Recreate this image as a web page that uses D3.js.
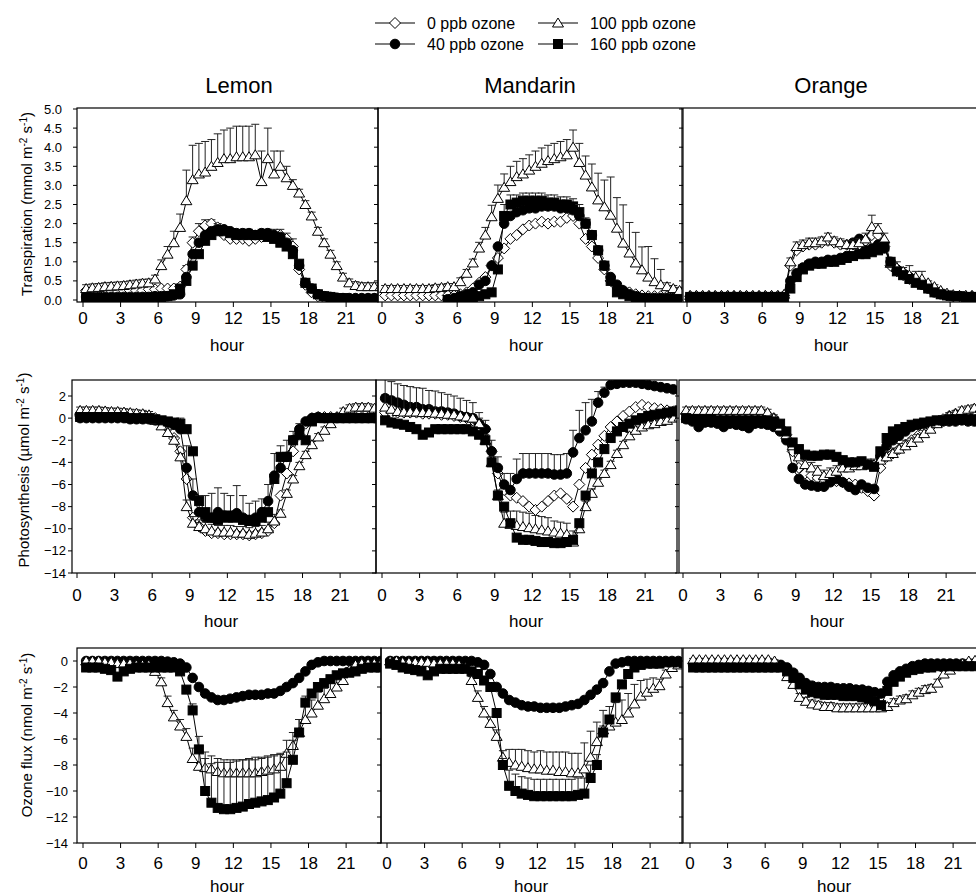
<!DOCTYPE html>
<html>
<head>
<meta charset="utf-8">
<script src="https://cdn.jsdelivr.net/npm/d3@7"></script>
<style>
  body { margin:0; background:#fff; }
  svg { font-family: "Liberation Sans", Arial, sans-serif; }
</style>
</head>
<body>
<script>
// sampling times (hour of day)
var hours = [0.25,0.75,1.25,1.75,2.25,2.75,3.25,3.75,4.25,4.75,5.25,5.75,
  6.25,6.75,7.25,7.75,8.25,8.75,9.25,9.75,10.25,10.75,11.25,11.75,
  12.25,12.75,13.25,13.75,14.25,14.75,15.25,15.75,16.25,16.75,17.25,17.75,
  18.25,18.75,19.25,19.75,20.25,20.75,21.25,21.75,22.25,22.75,23.25,23.75];

var species = ["Lemon","Mandarin","Orange"];
var seriesNames = ["0 ppb ozone","40 ppb ozone","100 ppb ozone","160 ppb ozone"];
var hourTicks = [0,3,6,9,12,15,18,21];
var transTicks = [0,0.5,1,1.5,2,2.5,3,3.5,4,4.5,5];
var photoTicks = [-14,-12,-10,-8,-6,-4,-2,0,2];
var fluxTicks = [-14,-12,-10,-8,-6,-4,-2,0];

// ---- Transpiration ----
var lemonT0 = [0.25,0.25,0.25,0.25,0.25,0.25, 0.25,0.25,0.25,0.25,0.28,0.28,
  0.3,0.3,0.3,0.35,0.8,1.5, 1.8,1.95,2.0,1.9,1.7,1.6, 1.6,1.6,1.55,1.6,1.65,1.7,
  1.7,1.7,1.6,1.4,0.8,0.4, 0.2,0.1,0.05,0.03,0.02,0.02, 0.02,0.02,0.02,0.03,0.03,0.03];
var lemonT0se = [0.05,0.05,0.05,0.05,0.05,0.05, 0.05,0.05,0.05,0.05,0.05,0.05,
  0.05,0.05,0.05,0.05,0.1,0.15, 0.2,0.15,0.1,0.1,0.2,0.2, 0.2,0.25,0.3,0.2,0.2,0.15,
  0.15,0.15,0.15,0.2,0.1,0.05, 0.05,0.03,0.02,0.02,0.02,0.02, 0.02,0.02,0.02,0.02,0.02,0.02];
var lemonT40 = [0.08,0.08,0.08,0.08,0.08,0.08, 0.08,0.08,0.08,0.08,0.08,0.1,
  0.1,0.1,0.12,0.15,0.6,1.2, 1.5,1.7,1.8,1.85,1.85,1.8, 1.75,1.75,1.75,1.7,1.75,1.75,
  1.7,1.65,1.5,1.3,0.9,0.45, 0.3,0.15,0.1,0.08,0.06,0.05, 0.05,0.05,0.05,0.05,0.05,0.05];
var lemonT100 = [0.3,0.32,0.33,0.35,0.36,0.37, 0.38,0.4,0.42,0.44,0.45,0.55,
  0.9,1.2,1.5,1.9,2.6,3.15, 3.3,3.35,3.5,3.6,3.7,3.7, 3.75,3.75,3.75,3.8,3.1,3.7,
  3.3,3.5,3.2,3.0,2.8,2.5, 2.2,1.8,1.5,1.2,0.9,0.6, 0.45,0.38,0.35,0.35,0.35,0.35];
var lemonT100se = [0.1,0.1,0.1,0.1,0.1,0.1, 0.1,0.1,0.1,0.1,0.1,0.1,
  0.15,0.2,0.3,0.35,0.8,0.9, 0.8,0.8,0.7,0.75,0.75,0.8, 0.8,0.8,0.8,0.8,0.8,0.8,
  0.6,0.4,0.3,0.15,0.1,0.1, 0.1,0.1,0.1,0.1,0.1,0.1, 0.1,0.1,0.1,0.1,0.1,0.1];
var lemonT160 = [0.05,0.05,0.05,0.05,0.05,0.05, 0.05,0.05,0.05,0.06,0.06,0.07,
  0.08,0.1,0.15,0.3,0.5,0.9, 1.2,1.55,1.7,1.8,1.8,1.75, 1.7,1.7,1.7,1.7,1.7,1.65,
  1.6,1.5,1.4,1.2,0.95,0.45, 0.3,0.15,0.1,0.08,0.05,0.05, 0.02,0,0,0.02,0.03,0.03];

var mandT0 = [0.12,0.12,0.12,0.12,0.12,0.12, 0.12,0.12,0.12,0.12,0.12,0.12,
  0.15,0.2,0.3,0.45,0.6,0.9, 1.1,1.35,1.6,1.7,1.85,1.95, 2.0,2.05,2.0,2.05,2.05,2.15,
  2.2,2.0,1.6,1.4,1.1,0.8, 0.5,0.35,0.25,0.2,0.15,0.12, 0.1,0.1,0.1,0.1,0.1,0.1];
var mandT40 = [null,null,null,null,null,null, null,null,null,null,0.02,0.05,
  0.1,0.15,0.2,0.4,0.5,0.9, 1.4,2.0,2.2,2.3,2.35,2.4, 2.4,2.45,2.45,2.45,2.4,2.4,
  2.35,2.2,2.0,1.7,1.3,0.9, 0.6,0.4,0.25,0.15,0.1,0.05, 0.05,0.05,0.05,0.05,0.05,0.05];
var mandT100 = [0.3,0.3,0.3,0.3,0.3,0.3, 0.3,0.3,0.32,0.33,0.35,0.35,
  0.48,0.7,0.97,1.36,1.7,2.18, 2.66,2.95,3.1,3.23,3.3,3.4, 3.5,3.58,3.65,3.7,3.75,3.8,
  4.0,3.6,3.27,2.96,2.62,2.44, 2.22,1.88,1.49,1.23,0.97,0.79, 0.6,0.48,0.4,0.35,0.3,0.25];
var mandT100se = [0.08,0.08,0.08,0.08,0.08,0.08, 0.08,0.08,0.08,0.08,0.08,0.08,
  0.1,0.1,0.1,0.15,0.2,0.3, 0.35,0.35,0.4,0.4,0.4,0.4, 0.4,0.4,0.4,0.4,0.4,0.4,
  0.45,0.5,0.5,0.6,0.7,0.7, 1.0,0.8,1.0,0.8,0.8,0.6, 0.8,0.6,0.4,0.1,0.08,0.08];
var mandT160 = [null,null,null,null,null,null, null,null,null,null,0,0,
  0.02,0.03,0.05,0.1,0.15,0.2, 0.8,2.2,2.5,2.55,2.6,2.6, 2.6,2.6,2.55,2.55,2.5,2.5,
  2.45,2.3,2.0,1.7,1.3,0.9, 0.5,0.2,0.15,0.1,0.08,0.05, 0.03,0.02,0,0,null,null];
var mandT160se = [0,0,0,0,0,0, 0,0,0,0,0,0,
  0,0,0,0,0,0, 0,0.3,0.25,0.2,0.2,0.2, 0.2,0.2,0.2,0.2,0.2,0.2,
  0.2,0.2,0.15,0.1,0.1,0.05, 0,0,0,0,0,0, 0,0,0,0,0,0];

var orT0 = [0.1,0.1,0.1,0.1,0.1,0.1, 0.1,0.1,0.1,0.1,0.1,0.1,
  0.1,0.1,0.1,0.12,0.9,1.3, 1.4,1.45,1.45,1.5,1.55,1.5, 1.45,1.45,1.45,1.45,1.55,1.7,
  1.7,1.4,0.9,0.75,0.65,0.55, 0.5,0.45,0.35,0.25,0.18,0.12, 0.1,0.1,0.1,0.1,0.1,0.1];
var orT40 = [0.08,0.08,0.08,0.08,0.08,0.08, 0.08,0.08,0.08,0.08,0.08,0.08,
  0.08,0.08,0.08,0.1,0.5,0.7, 0.85,0.95,1.0,1.0,1.05,1.05, 1.1,1.15,1.5,1.6,1.3,1.35,
  1.45,1.35,1.0,0.8,0.7,0.6, 0.5,0.4,0.3,0.2,0.15,0.12, 0.1,0.1,0.08,0.08,0.08,0.08];
var orT100 = [0.12,0.12,0.12,0.12,0.12,0.12, 0.12,0.12,0.12,0.12,0.12,0.12,
  0.12,0.12,0.12,0.15,1.0,1.4, 1.45,1.5,1.5,1.55,1.65,1.55, 1.5,1.45,1.45,1.5,1.6,1.92,
  1.85,1.6,0.96,0.85,0.75,0.65, 0.6,0.55,0.45,0.35,0.25,0.18, 0.14,0.12,0.12,0.12,0.12,0.12];
var orT100se = [0.03,0.03,0.03,0.03,0.03,0.03, 0.03,0.03,0.03,0.03,0.03,0.03,
  0.03,0.03,0.03,0.03,0.1,0.12, 0.12,0.12,0.12,0.1,0.1,0.1, 0.1,0.1,0.1,0.1,0.15,0.3,
  0.15,0.15,0.1,0.15,0.1,0.25, 0.15,0.2,0.05,0.05,0.03,0.03, 0.03,0.03,0.03,0.03,0.03,0.03];
var orT160 = [0.08,0.08,0.08,0.08,0.08,0.08, 0.08,0.08,0.08,0.08,0.08,0.08,
  0.08,0.08,0.08,0.08,0.3,0.6, 0.8,0.9,0.95,0.95,1.0,1.0, 1.05,1.1,1.15,1.2,1.2,1.25,
  1.3,1.4,1.0,0.75,0.65,0.55, 0.45,0.4,0.3,0.2,0.15,0.12, 0.1,0.1,0.08,0.08,0.08,0.08];

// ---- Photosynthesis ----
var lemonP0 = [0.2,0.2,0.2,0.2,0.2,0.2, 0.2,0.2,0.2,0.15,0.1,0.1,
  0,-0.4,-0.9,-1.8,-3.0,-5.5, -9.0,-9.8,-10.2,-10.4,-10.4,-10.5, -10.5,-10.5,-10.5,-10.6,-10.5,-10.4,
  -10.2,-9.5,-7.0,-5.0,-3.0,-1.5, -0.5,0,0.1,0.1,0.1,0.1, 0.1,0.1,0.1,0.1,0.1,0.1];
var lemonP40 = [0,0,0,0,0,0, 0,0,-0.1,-0.1,-0.1,-0.1,
  -0.2,-0.3,-0.4,-0.6,-1.0,-4.5, -7.0,-8.5,-9.0,-9.0,-8.5,-8.8, -9.0,-8.6,-9.0,-9.2,-9.0,-8.5,
  -7.5,-5.2,-4.5,-3.5,-2.0,-1.0, -0.3,0,0.1,0,0,0, 0,0,0,0,0,0];
var lemonP40se = [0.3,0.3,0.3,0.3,0.3,0.3, 0.3,0.3,0.3,0.3,0.3,0.3,
  0.3,0.3,0.3,0.5,1.0,2.0, 1.5,1.5,2.0,2.2,2.2,2.0, 2.0,2.5,2.0,1.5,1.5,1.2,
  1.5,2.0,2.0,1.5,0.8,0.5, 0.2,0.2,0.2,0.2,0.2,0.2, 0.2,0.2,0.2,0.2,0.2,0.2];
var lemonP100 = [0.7,0.7,0.7,0.7,0.65,0.6, 0.6,0.55,0.5,0.45,0.4,0.3,
  -0.2,-0.7,-1.3,-2.0,-3.5,-8.0, -9.5,-9.8,-10.0,-10.2,-10.3,-10.3, -10.3,-10.4,-10.4,-10.5,-10.4,-10.3,
  -10.0,-9.3,-8.6,-6.8,-5.5,-4.3, -3.3,-2.4,-1.7,-1.1,-0.5,0.1, 0.6,0.9,1.0,1.0,1.0,0.9];
var lemonP100se = [0.3,0.3,0.3,0.3,0.3,0.3, 0.3,0.3,0.3,0.3,0.3,0.3,
  0.3,0.3,0.3,0.3,0.3,0.6, 0.6,0.6,0.6,0.6,0.6,0.6, 0.6,0.6,0.6,0.6,0.6,0.6,
  0.6,0.6,0.3,0.3,0.3,0.3, 0.3,0.3,0.3,0.3,0.3,0.3, 0.3,0.3,0.3,0.3,0.3,0.3];
var lemonP160 = [0.1,0.1,0.1,0.1,0.1,0.1, 0.1,0.1,0,0,0,0,
  -0.1,-0.2,-0.3,-0.4,-0.5,-1.0, -3.0,-7.5,-8.5,-9.0,-9.2,-9.0, -8.8,-9.0,-9.2,-9.3,-9.3,-9.0,
  -8.5,-5.5,-3.5,-3.5,-2.0,-1.5, -2.0,-0.3,0,0,0,0, 0,0,0,0,0,0];

var mandP0 = [0.5,0.5,0.5,0.5,0.5,0.5, 0.4,0.4,0.4,0.3,0.3,0.2,
  0.1,0,-0.2,-0.5,-1.0,-3.0, -5.0,-6.5,-7.0,-7.2,-7.5,-8.0, -8.3,-8.0,-7.5,-7.0,-6.8,-7.3,
  -8.0,-6.0,-4.5,-3.3,-2.4,-1.6, -0.8,-0.3,0.2,0.6,1.0,1.2, 1.0,0.9,0.8,0.7,0.6,0.5];
var mandP40 = [1.8,1.6,1.4,1.2,1.0,1.0, 0.8,0.8,0.6,0.6,0.5,0.4,
  0.2,0.1,0,-0.5,-1.0,-3.0, -4.5,-6.0,-6.5,-5.5,-5.0,-5.0, -5.0,-5.0,-5.0,-5.1,-5.1,-5.0,
  -3.1,-1.8,-1.1,-0.3,1.4,2.3, 3.0,3.1,3.2,3.2,3.2,3.1, 3.0,2.9,2.8,2.7,2.6,2.5];
var mandP40se = [0.3,0.3,0.3,0.3,0.3,0.3, 0.3,0.3,0.3,0.3,0.3,0.3,
  0.3,0.3,0.3,0.5,0.8,1.0, 1.0,1.0,1.5,1.8,1.8,1.8, 1.8,1.8,1.8,1.8,1.8,1.8,
  2.0,2.5,2.5,2.0,1.0,0.5, 0.2,0.2,0.2,0.2,0.2,0.2, 0.2,0.2,0.2,0.2,0.2,0.2];
var mandP100 = [1.0,0.8,0.6,0.55,0.55,0.55, 0.5,0.5,0.45,0.4,0.35,0.3,
  0.2,0.1,0,-0.5,-2.0,-4.0, -7.0,-9.5,-9.6,-9.7,-9.8,-9.9, -10.0,-10.1,-10.2,-10.3,-10.4,-10.5,
  -11.2,-10.0,-8.0,-6.8,-5.8,-5.0, -4.2,-3.2,-2.4,-1.6,-1.1,-0.8, -0.6,-0.5,-0.3,-0.2,0,0.1];
var mandP100se = [2.5,2.5,2.5,2.4,2.3,2.2, 2.2,2.0,2.0,1.9,1.8,1.7,
  1.6,1.5,1.4,1.0,0.5,0.5, 0.5,1.0,1.2,1.3,1.3,1.3, 1.2,1.2,1.2,1.0,1.0,1.0,
  1.0,0.5,0.5,0.4,0.3,0.3, 0.3,0.3,0.3,0.3,0.3,0.3, 0.3,0.3,0.3,0.3,0.3,0.3];
var mandP160 = [-0.2,-0.4,-0.5,-0.6,-0.8,-1.0, -1.5,-1.3,-1.0,-1.0,-1.0,-1.0,
  -1.0,-1.0,-1.2,-1.5,-2.0,-4.0, -7.0,-8.0,-9.5,-10.8,-11.0,-11.0, -11.1,-11.2,-11.2,-11.3,-11.3,-11.2,
  -11.0,-9.5,-7.0,-5.0,-4.0,-2.8, -1.8,-1.2,-0.8,-0.5,-0.2,0, 0.2,0.3,0.4,0.5,0.6,0.7];

var orP0 = [0.4,0.4,0.4,0.4,0.4,0.4, 0.4,0.4,0.4,0.4,0.4,0.4,
  0.4,0.3,0,-0.8,-1.5,-3.0, -4.5,-5.0,-5.2,-5.4,-5.5,-5.6, -5.7,-5.8,-5.9,-6.0,-6.3,-6.6,
  -7.0,-4.5,-3.5,-3.2,-2.8,-2.4, -2.0,-1.6,-1.2,-0.8,-0.4,-0.1, 0.2,0.4,0.5,0.6,0.6,0.6];
var orP40 = [-0.1,-0.3,-0.8,-0.4,-0.4,-0.5, -0.8,-0.5,-0.6,-0.7,-0.9,-0.5,
  -0.5,-0.6,-0.8,-1.2,-2.0,-4.5, -5.5,-6.0,-6.1,-6.2,-6.2,-5.8, -5.5,-5.8,-6.2,-6.5,-6.0,-6.3,
  -6.4,-3.5,-2.5,-2.0,-1.6,-1.2, -0.8,-0.6,-0.5,-0.4,-0.4,-0.3, -0.3,-0.3,-0.2,-0.3,-0.3,-0.2];
var orP100 = [0.7,0.7,0.7,0.7,0.7,0.7, 0.7,0.7,0.7,0.7,0.7,0.7,
  0.7,0.5,0,-0.8,-1.5,-2.5, -3.5,-4.2,-4.5,-4.8,-5.2,-5.0, -4.8,-4.5,-4.5,-4.3,-4.3,-4.2,
  -4.2,-3.8,-3.5,-3.2,-2.8,-2.5, -2.2,-1.8,-1.4,-1.0,-0.5,-0.2, 0.2,0.4,0.7,0.8,0.9,0.9];
var orP100se = [0.3,0.3,0.3,0.3,0.3,0.3, 0.3,0.3,0.3,0.3,0.3,0.3,
  0.3,0.3,0.3,0.3,0.4,0.5, 0.5,0.5,0.5,0.5,0.5,0.5, 0.5,0.5,0.5,0.5,0.5,0.5,
  0.5,0.5,0.5,0.5,0.5,0.5, 0.4,0.3,0.3,0.3,0.3,0.3, 0.3,0.3,0.3,0.3,0.3,0.3];
var orP160 = [0,-0.1,-0.1,-0.1,-0.1,-0.2, -0.2,-0.2,-0.2,-0.2,-0.2,-0.2,
  -0.2,-0.2,-0.3,-0.5,-1.2,-2.2, -2.8,-3.3,-3.4,-3.4,-3.3,-3.3, -3.5,-3.8,-4.0,-4.0,-3.9,-4.2,
  -4.4,-3.0,-1.8,-1.2,-1.0,-0.8, -0.6,-0.5,-0.4,-0.3,-0.2,-0.2, -0.1,-0.1,-0.1,-0.1,-0.1,-0.1];

// ---- Ozone flux (0 ppb not plotted) ----
var lemonO40 = [0,0,0,0,0,0, 0,0,0,0,0,0,
  0,-0.05,-0.1,-0.2,-0.5,-1.3, -2.0,-2.5,-2.8,-3.0,-3.0,-2.9, -2.8,-2.7,-2.6,-2.6,-2.6,-2.5,
  -2.5,-2.3,-2.0,-1.7,-1.3,-0.8, -0.3,-0.1,0,0,0,0, 0,0,0,0,0,0];
var lemonO100 = [0,0,0,-0.1,-0.1,-0.2, -0.2,-0.2,-0.3,-0.3,-0.3,-0.8,
  -1.6,-3.2,-4.3,-5.0,-5.8,-7.5, -8.1,-8.2,-8.3,-8.5,-8.6,-8.6, -8.6,-8.6,-8.6,-8.6,-8.5,-8.4,
  -8.3,-8.1,-7.1,-6.5,-5.5,-4.5, -4.0,-3.4,-2.9,-2.5,-2.0,-1.5, -0.7,-0.3,-0.2,-0.2,-0.2,-0.2];
var lemonO100se = [0.1,0.1,0.1,0.1,0.1,0.1, 0.1,0.1,0.1,0.1,0.1,0.1,
  0.3,0.5,0.5,0.5,0.6,0.8, 1.2,1.2,1.0,1.0,1.0,1.0, 1.0,1.0,1.0,1.0,1.0,1.0,
  1.0,1.0,1.0,1.0,1.0,1.0, 1.0,1.0,0.8,0.8,0.8,0.6, 0.2,0.1,0.1,0.1,0.1,0.1];
var lemonO160 = [-0.5,-0.5,-0.5,-0.6,-0.7,-1.2, -0.8,-0.6,-0.5,-0.5,-0.5,-0.5,
  -0.5,-0.5,-0.5,-0.8,-2.2,-3.8, -6.8,-10.0,-10.9,-11.3,-11.4,-11.4, -11.3,-11.2,-11.0,-10.9,-10.8,-10.7,
  -10.5,-10.2,-9.4,-7.6,-5.5,-3.2, -2.5,-2.0,-1.7,-1.4,-1.1,-0.95, -0.9,-0.8,-0.6,-0.5,-0.5,-0.5];
var lemonO160se = [0,0,0,0,0,0, 0,0,0,0,0,0,
  0,0,0,0,0,0.5, 1.0,2.5,3.0,3.5,3.6,3.6, 3.6,3.6,3.5,3.5,3.4,3.4,
  3.3,3.0,2.4,1.5,1.0,0.5, 0,0,0,0,0,0, 0,0,0,0,0,0];

var mandO40 = [0,0,0,0,0,0, 0,0,0,0,0,0,
  0,0,-0.1,-0.3,-1.0,-2.0, -2.5,-3.0,-3.2,-3.4,-3.5,-3.5, -3.6,-3.6,-3.6,-3.6,-3.5,-3.4,
  -3.3,-3.0,-2.6,-2.2,-1.7,-0.8, -0.2,-0.1,0,0,0,0, 0,0,0,0,0,0];
var mandO100 = [0,0,-0.1,-0.1,-0.1,-0.1, -0.1,-0.2,-0.2,-0.2,-0.2,-0.3,
  -0.5,-1.5,-2.8,-4.0,-4.8,-5.8, -7.4,-7.8,-8.0,-8.1,-8.2,-8.3, -8.3,-8.4,-8.4,-8.5,-8.5,-8.6,
  -8.6,-8.3,-7.4,-6.2,-5.3,-5.0, -4.7,-4.5,-4.0,-3.3,-2.7,-2.4, -2.1,-1.9,-1.0,-0.5,-0.3,-0.2];
var mandO100se = [0.1,0.1,0.1,0.1,0.1,0.1, 0.1,0.1,0.1,0.1,0.1,0.1,
  0.2,0.3,0.5,0.5,0.5,0.5, 0.5,1.0,1.2,1.3,1.3,1.3, 1.4,1.4,1.4,1.5,1.5,1.5,
  1.5,2.0,2.0,1.5,1.5,1.5, 1.5,1.5,1.5,1.5,1.2,1.0, 0.8,0.5,0.3,0.1,0.1,0.1];
var mandO160 = [-0.2,-0.3,-0.5,-0.6,-0.7,-0.8, -1.1,-0.8,-0.6,-0.6,-0.6,-0.6,
  -0.6,-0.8,-1.0,-1.5,-2.0,-4.0, -8.0,-9.6,-10.0,-10.2,-10.3,-10.4, -10.4,-10.4,-10.4,-10.4,-10.4,-10.4,
  -10.3,-10.2,-9.0,-8.0,-5.5,-4.5, -2.8,-1.8,-1.0,-0.5,-0.3,-0.2, -0.2,-0.2,-0.1,-0.1,-0.1,-0.1];
var mandO160se = [0,0,0,0,0,0, 0,0,0,0,0,0,
  0,0,0,0,0,0, 0.5,1.2,1.3,1.3,1.3,1.3, 1.3,1.3,1.3,1.3,1.3,1.3,
  1.3,1.2,1.0,0.8,0.5,0.3, 0,0,0,0,0,0, 0,0,0,0,0,0];

var orO40 = [-0.3,-0.3,-0.3,-0.3,-0.3,-0.3, -0.3,-0.3,-0.3,-0.3,-0.3,-0.3,
  -0.3,-0.3,-0.3,-0.5,-0.9,-1.3, -1.7,-1.9,-2.0,-2.0,-2.0,-2.1, -2.1,-2.1,-2.2,-2.2,-2.3,-2.4,
  -2.5,-1.6,-1.1,-0.8,-0.6,-0.4, -0.3,-0.2,-0.2,-0.2,-0.2,-0.2, -0.2,-0.2,-0.2,-0.2,-0.2,-0.2];
var orO100 = [0.1,0.1,0.1,0.1,0.1,0.1, 0.1,0.1,0.1,0.1,0.1,0.1,
  0.1,0,-0.5,-1.2,-1.8,-2.8, -3.1,-3.3,-3.4,-3.5,-3.5,-3.6, -3.6,-3.6,-3.6,-3.6,-3.6,-3.6,
  -3.6,-3.5,-3.2,-3.0,-2.9,-2.6, -2.4,-2.2,-2.1,-1.7,-1.0,-0.7, -0.4,-0.2,0,0.05,0.05,0.05];
var orO100se = [0.1,0.1,0.1,0.1,0.1,0.1, 0.1,0.1,0.1,0.1,0.1,0.1,
  0.1,0.1,0.2,0.3,0.3,0.3, 0.3,0.3,0.3,0.3,0.3,0.3, 0.3,0.3,0.3,0.3,0.3,0.3,
  0.3,0.3,0.3,0.3,0.3,0.3, 0.3,0.3,0.3,0.3,0.2,0.1, 0.1,0.1,0.1,0.1,0.1,0.1];
var orO160 = [-0.5,-0.5,-0.5,-0.5,-0.5,-0.5, -0.5,-0.5,-0.5,-0.5,-0.5,-0.5,
  -0.5,-0.5,-0.5,-0.8,-1.3,-1.8, -2.2,-2.4,-2.5,-2.6,-2.6,-2.6, -2.7,-2.7,-2.7,-2.8,-2.9,-3.1,
  -3.4,-2.3,-1.6,-1.2,-0.9,-0.7, -0.6,-0.5,-0.5,-0.4,-0.4,-0.4, -0.4,-0.4,-0.4,-0.4,-0.4,-0.4];

// layout of the three rows (pixel positions)
var rows = [
  {top:108, bottom:302, dom:[0,5], rng:[300,109], ticks:transTicks, fmt:d3.format(".1f"), labX:62,
   title:["Transpiration (mmol m","-2"," s","-1",")"], titleX:32, titleY:204,
   cols:[[77,378,83],[378,682,382],[683,990,687]], tickLabY:324, hourY:351},
  {top:380, bottom:573, dom:[-14,2], rng:[573,396], ticks:photoTicks, fmt:d3.format("d"), labX:66,
   title:["Photosynthesis (\u00b5mol m","-2"," s","-1",")"], titleX:29, titleY:470,
   cols:[[72,376,77],[376,677,382],[679,990,683]], tickLabY:601, hourY:627},
  {top:648, bottom:843, dom:[-14,0], rng:[843,661], ticks:fluxTicks, fmt:d3.format("d"), labX:68,
   title:["Ozone flux (nmol m","-2"," s","-1",")"], titleX:32, titleY:735,
   cols:[[77,381,83],[381,682,387],[683,990,690]], tickLabY:869, hourY:892}
];

var panels = [
  {row:0, col:0, vals:[lemonT0, lemonT40, lemonT100, lemonT160], se:[lemonT0se, null, lemonT100se, null]},
  {row:0, col:1, vals:[mandT0, mandT40, mandT100, mandT160], se:[null, null, mandT100se, mandT160se]},
  {row:0, col:2, vals:[orT0, orT40, orT100, orT160], se:[null, null, orT100se, null]},
  {row:1, col:0, vals:[lemonP0, lemonP40, lemonP100, lemonP160], se:[null, lemonP40se, lemonP100se, null]},
  {row:1, col:1, vals:[mandP0, mandP40, mandP100, mandP160], se:[null, mandP40se, mandP100se, null]},
  {row:1, col:2, vals:[orP0, orP40, orP100, orP160], se:[null, null, orP100se, null]},
  {row:2, col:0, vals:[null, lemonO40, lemonO100, lemonO160], se:[null, null, lemonO100se, lemonO160se]},
  {row:2, col:1, vals:[null, mandO40, mandO100, mandO160], se:[null, null, mandO100se, mandO160se]},
  {row:2, col:2, vals:[null, orO40, orO100, orO160], se:[null, null, orO100se, null]}
];

var shapes = ["diamond","circle","triangle","square"];
var fills = ["#fff","#000","#fff","#000"];

function addMarker(g, shape, fill, cx, cy) {
  var m;
  if (shape == "circle") {
    m = g.append("circle").attr("cx",cx).attr("cy",cy).attr("r",4.8);
  } else if (shape == "square") {
    m = g.append("rect").attr("x",cx-4.5).attr("y",cy-4.5).attr("width",9).attr("height",9);
  } else if (shape == "diamond") {
    m = g.append("path").attr("d","M"+cx+","+(cy-5.5)+"L"+(cx+5.5)+","+cy+"L"+cx+","+(cy+5.5)+"L"+(cx-5.5)+","+cy+"Z");
  } else {
    m = g.append("path").attr("d","M"+cx+","+(cy-5)+"L"+(cx+5.5)+","+(cy+4)+"L"+(cx-5.5)+","+(cy+4)+"Z");
  }
  m.attr("fill",fill).attr("stroke","#000").attr("stroke-width",1);
}

var svg = d3.select("body").append("svg").attr("width",976).attr("height",895);

// legend
var legPos = [[375,23],[375,44],[538,23],[538,44]];
seriesNames.forEach(function(name,i){
  var p = legPos[i];
  svg.append("line").attr("x1",p[0]).attr("x2",p[0]+40).attr("y1",p[1]).attr("y2",p[1])
    .attr("stroke","#000").attr("stroke-width",1.2);
  addMarker(svg, shapes[i], fills[i], p[0]+20, p[1]);
  svg.append("text").attr("x",p[0]+52).attr("y",p[1]+5.5).attr("font-size",16).text(name);
});

// column titles
var titleX = [239,530,831];
species.forEach(function(s,i){
  svg.append("text").attr("x",titleX[i]).attr("y",93).attr("text-anchor","middle")
    .attr("font-size",22).text(s);
});

// y titles
rows.forEach(function(r){
  var t = svg.append("text").attr("transform","translate("+r.titleX+","+r.titleY+") rotate(-90)")
    .attr("text-anchor","middle").attr("font-size",15);
  r.title.forEach(function(part,k){
    var ts = t.append("tspan").text(part);
    if (k==1 || k==3) ts.attr("font-size",10).attr("baseline-shift","super");
  });
});

panels.forEach(function(p, pi){
  var r = rows[p.row], c = r.cols[p.col];
  var x = d3.scaleLinear().domain([0,24]).range([c[2], c[2]+300.7]);
  var y = d3.scaleLinear().domain(r.dom).range(r.rng);
  var g = svg.append("g");

  // ticks
  r.ticks.forEach(function(t){
    g.append("line").attr("x1",c[0]-4).attr("x2",c[0]).attr("y1",y(t)).attr("y2",y(t)).attr("stroke","#000");
    if (p.col==0) {
      g.append("text").attr("x",r.labX).attr("y",y(t)+4.5).attr("text-anchor","end")
        .attr("font-size",13).text(r.fmt(t));
    }
  });
  hourTicks.forEach(function(h){
    g.append("line").attr("x1",x(h)).attr("x2",x(h)).attr("y1",r.bottom).attr("y2",r.bottom+5).attr("stroke","#000");
    g.append("text").attr("x",x(h)).attr("y",r.tickLabY).attr("text-anchor","middle")
      .attr("font-size",17).text(h);
  });
  g.append("text").attr("x",x(11.5)).attr("y",r.hourY).attr("text-anchor","middle")
    .attr("font-size",17).text("hour");

  // plot area
  svg.append("clipPath").attr("id","clip"+pi).append("rect")
    .attr("x",c[0]).attr("y",r.top).attr("width",c[1]-c[0]).attr("height",r.bottom-r.top);
  var area = g.append("g").attr("clip-path","url(#clip"+pi+")");

  p.vals.forEach(function(vals, si){
    if (!vals) return;
    var pts = hours.map(function(h,i){ return {h:h, v:vals[i], e:p.se[si] ? p.se[si][i] : 0}; })
      .filter(function(d){ return d.v != null; });
    var line = d3.line().x(function(d){ return x(d.h); }).y(function(d){ return y(d.v); });
    area.append("path").attr("d",line(pts)).attr("fill","none").attr("stroke","#000").attr("stroke-width",1);
    pts.forEach(function(d){
      if (d.e > 0) {
        var y0 = y(d.v), y1 = y(d.v + d.e);
        area.append("line").attr("x1",x(d.h)).attr("x2",x(d.h)).attr("y1",y0).attr("y2",y1)
          .attr("stroke","#222").attr("stroke-width",1);
        area.append("line").attr("x1",x(d.h)-4).attr("x2",x(d.h)+4).attr("y1",y1).attr("y2",y1)
          .attr("stroke","#222").attr("stroke-width",1);
      }
      addMarker(area, shapes[si], fills[si], x(d.h), y(d.v));
    });
  });

  g.append("rect").attr("x",c[0]).attr("y",r.top).attr("width",c[1]-c[0]).attr("height",r.bottom-r.top)
    .attr("fill","none").attr("stroke","#000").attr("stroke-width",1.2);
});
</script>
</body>
</html>
